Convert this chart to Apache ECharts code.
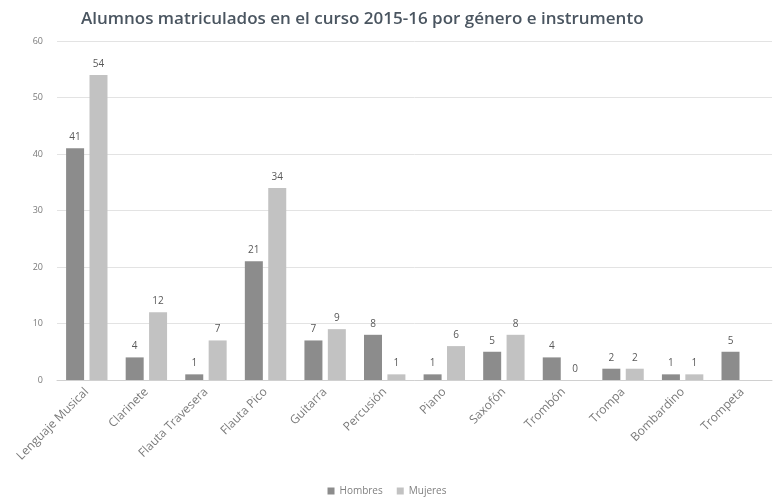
<!DOCTYPE html>
<html>
<head>
<meta charset="utf-8">
<script src="https://cdn.jsdelivr.net/npm/echarts@6/dist/echarts.min.js"></script>
<style>
  html, body { margin: 0; padding: 0; background: #fff; }
  #chart { width: 774px; height: 503px; }
</style>
</head>
<body>
<div id="chart"></div>
<script>
// datos
const instrumentos = ['Lenguaje Musical', 'Clarinete', 'Flauta Travesera', 'Flauta Pico', 'Guitarra',
    'Percusión', 'Piano', 'Saxofón', 'Trombón', 'Trompa', 'Bombardino', 'Trompeta']
const hombres = [41, 4, 1, 21, 7, 8, 1, 5, 4, 2, 1, 5]
const mujeres = [54, 12, 7, 34, 9, 1, 6, 8, 0, 2, 1, null]
const yTicks = [0, 10, 20, 30, 40, 50, 60]

const fuente = '"Open Sans", "Noto Sans", sans-serif'

let myChart = echarts.init(document.getElementById('chart'))

const etiqueta = {
    show: true,
    position: 'top',
    distance: 6,
    color: '#595959',
    fontSize: 10,
    fontFamily: fuente
}

myChart.setOption({
    animation: false,
    backgroundColor: '#fff',
    title: {
        text: 'Alumnos matriculados en el curso 2015-16 por género e instrumento',
        left: 76,
        top: 6,
        textStyle: {
            color: '#4a5560',
            fontSize: 17,
            fontWeight: 600,
            fontFamily: fuente
        }
    },
    legend: {
        bottom: 2,
        left: 'center',
        itemWidth: 7,
        itemHeight: 7,
        itemGap: 14,
        icon: 'rect',
        textStyle: { color: '#808080', fontSize: 10, fontFamily: fuente },
        data: ['Hombres', 'Mujeres']
    },
    grid: {
        left: 57,
        right: 2,
        top: 41,
        bottom: 123
    },
    xAxis: {
        type: 'category',
        data: instrumentos,
        axisLine: { lineStyle: { color: '#d0d0d0' } },
        axisTick: { show: false },
        axisLabel: {
            rotate: 45,
            interval: 0,
            margin: 10,
            color: '#7a7a7a',
            fontSize: 12,
            fontFamily: fuente
        }
    },
    yAxis: {
        type: 'value',
        min: yTicks[0],
        max: yTicks[yTicks.length - 1],
        interval: 10,
        axisLine: { show: false },
        axisTick: { show: false },
        splitLine: { lineStyle: { color: '#e3e3e3' } },
        axisLabel: {
            margin: 14,
            color: '#7a7a7a',
            fontSize: 9,
            fontFamily: fuente
        }
    },
    series: [
        {
            name: 'Hombres',
            type: 'bar',
            data: hombres,
            barWidth: 18,
            barGap: '30%',
            itemStyle: { color: '#8c8c8c' },
            label: etiqueta
        },
        {
            name: 'Mujeres',
            type: 'bar',
            data: mujeres,
            barWidth: 18,
            itemStyle: { color: '#c2c2c2' },
            label: etiqueta
        }
    ]
})
</script>
</body>
</html>
